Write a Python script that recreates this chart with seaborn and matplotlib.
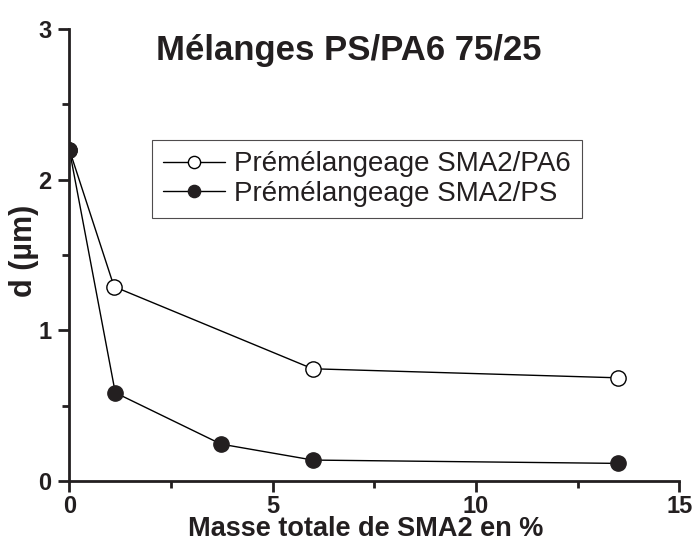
import matplotlib
matplotlib.use("Agg")
import matplotlib.pyplot as plt
from matplotlib.ticker import MultipleLocator
import seaborn as sns
import pandas as pd

# SMA2 total mass (%) and particle diameter d (µm)
x_pa6 = [0.0, 1.10, 5.98, 13.48]
d_pa6 = [2.20, 1.29, 0.745, 0.685]
x_ps = [0.0, 1.13, 3.73, 5.99, 13.48]
d_ps = [2.20, 0.586, 0.245, 0.139, 0.117]
labels = ["Prémélangeage SMA2/PA6", "Prémélangeage SMA2/PS"]
title = "Mélanges PS/PA6 75/25"

df = pd.concat([
    pd.DataFrame({"x": x_pa6, "d": d_pa6, "serie": labels[0]}),
    pd.DataFrame({"x": x_ps, "d": d_ps, "serie": labels[1]}),
])

sns.set_style("white")
plt.rcParams["font.family"] = ["Liberation Sans", "DejaVu Sans"]
ink = "#231f20"

fig = plt.figure(figsize=(6.94, 5.45), dpi=100)
ax = fig.add_axes([0.0999, 0.1174, 0.8791, 0.8294])

sub = df[df["serie"] == labels[0]]
sns.lineplot(data=sub, x="x", y="d", ax=ax, color="black", lw=1.0,
             marker="o", markersize=11, markerfacecolor="white",
             markeredgecolor="black", markeredgewidth=1.0, label=labels[0],
             sort=False)
sub = df[df["serie"] == labels[1]]
sns.lineplot(data=sub, x="x", y="d", ax=ax, color="black", lw=1.0,
             marker="o", markersize=11, markerfacecolor=ink,
             markeredgecolor=ink, markeredgewidth=1.0, label=labels[1],
             sort=False)

ax.set_xlim(0, 15)
ax.set_ylim(0, 3)
ax.xaxis.set_major_locator(MultipleLocator(5))
ax.xaxis.set_minor_locator(MultipleLocator(2.5))
ax.yaxis.set_major_locator(MultipleLocator(1))
ax.yaxis.set_minor_locator(MultipleLocator(0.5))

for side in ("top", "right"):
    ax.spines[side].set_visible(False)
for side in ("left", "bottom"):
    ax.spines[side].set_linewidth(2.0)
    ax.spines[side].set_color(ink)

ax.tick_params(which="major", direction="out", length=8, width=2,
               color=ink, labelsize=17, pad=2, left=True, bottom=True)
ax.tick_params(which="minor", direction="out", length=5, width=2,
               color=ink, left=True, bottom=True)
ax.tick_params(axis="y", which="major", pad=5)
for lab in ax.get_xticklabels() + ax.get_yticklabels():
    lab.set_fontweight("bold")
    lab.set_color(ink)

ax.set_xlabel("Masse totale de SMA2 en %", fontsize=19.5, fontweight="bold",
              color=ink)
ax.xaxis.set_label_coords(0.485, -0.136)
ax.xaxis.label.set_va("bottom")
ax.set_ylabel("d (µm)", fontsize=22, fontweight="bold", color=ink)
ax.yaxis.set_label_coords(-0.075, 0.51)
ax.yaxis.label.set_va("center")

ax.text(0.458, 0.952, title, transform=ax.transAxes, ha="center", va="center",
        fontsize=25, fontweight="bold", color=ink)

leg = ax.legend(loc="upper left", bbox_to_anchor=(0.136, 0.754),
                fontsize=20, frameon=True, fancybox=False, markerscale=0.8,
                handlelength=2.2, handletextpad=0.35, borderpad=0.4,
                labelspacing=0.12, borderaxespad=0)
leg.get_frame().set_edgecolor(ink)
leg.get_frame().set_linewidth(0.8)
for t in leg.get_texts():
    t.set_color(ink)

fig.savefig("out.png", dpi=100, facecolor="white")
